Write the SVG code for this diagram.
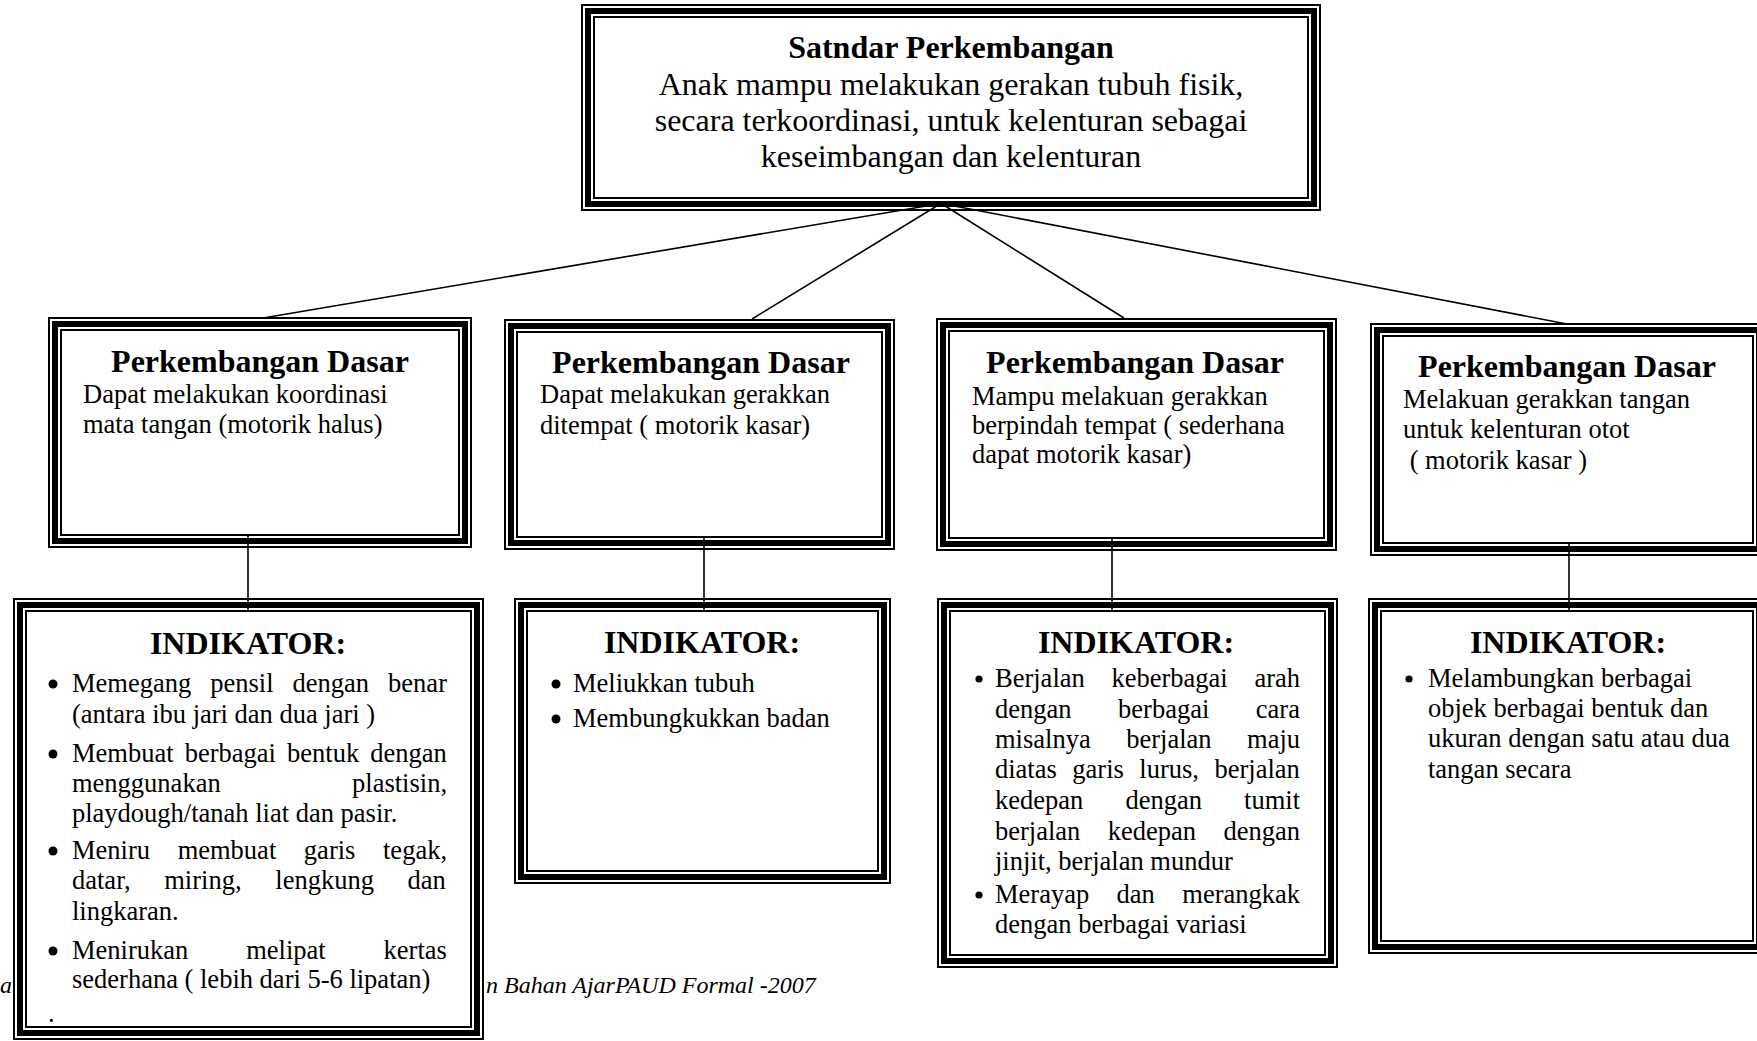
<svg xmlns="http://www.w3.org/2000/svg" width="1757" height="1041" viewBox="0 0 1757 1041">
<style>
.bg{fill:#fff;stroke:#000;stroke-width:2}
.tk{fill:none;stroke:#000;stroke-width:6}
.tn{fill:none;stroke:#000;stroke-width:2}
.cn{stroke:#000;stroke-width:1.6;fill:none}
text{font-family:"Liberation Serif","Times New Roman",serif;fill:#000}
.h{font-weight:bold;font-size:32px;text-anchor:middle}
.tb{font-size:32px;text-anchor:middle}
.b{font-size:26.5px}
.f{font-size:24px;font-style:italic}
.dot{fill:#000}
</style>
<rect width="1757" height="1041" fill="#fff"/>
<g id="footer">
<text class="f" x="0" y="993">an</text>
<text class="f" x="486" y="993">n Bahan AjarPAUD Formal -2007</text>
</g>
<g id="top">
<rect class="bg" x="582" y="5" width="738" height="205"/>
<rect class="tk" x="588" y="11" width="726" height="193"/>
<rect class="tn" x="594" y="17" width="714" height="181"/>
<text class="h" x="951" y="58">Satndar Perkembangan</text>
<text class="tb" x="951" y="95">Anak mampu melakukan gerakan tubuh fisik,</text>
<text class="tb" x="951" y="131">secara terkoordinasi, untuk kelenturan sebagai</text>
<text class="tb" x="951" y="167">keseimbangan dan kelenturan</text>
</g>
<g id="pd1">
<rect class="bg" x="49" y="318" width="422" height="229"/>
<rect class="tk" x="55" y="324" width="410" height="217"/>
<rect class="tn" x="61" y="330" width="398" height="205"/>
<text class="h" x="260" y="372">Perkembangan Dasar</text>
<text class="b" x="83" y="403">Dapat melakukan koordinasi</text>
<text class="b" x="83" y="433">mata tangan (motorik halus)</text>
</g>
<g id="pd2">
<rect class="bg" x="505" y="320" width="389" height="229"/>
<rect class="tk" x="511" y="326" width="377" height="217"/>
<rect class="tn" x="517" y="332" width="365" height="205"/>
<text class="h" x="701" y="373">Perkembangan Dasar</text>
<text class="b" x="540" y="403">Dapat melakukan gerakkan</text>
<text class="b" x="540" y="434">ditempat ( motorik kasar)</text>
</g>
<g id="pd3">
<rect class="bg" x="937" y="319" width="399" height="231"/>
<rect class="tk" x="943" y="325" width="387" height="219"/>
<rect class="tn" x="949" y="331" width="375" height="207"/>
<text class="h" x="1135" y="373">Perkembangan Dasar</text>
<text class="b" x="972" y="405">Mampu melakuan gerakkan</text>
<text class="b" x="972" y="434">berpindah tempat ( sederhana</text>
<text class="b" x="972" y="463">dapat motorik kasar)</text>
</g>
<g id="pd4">
<rect class="bg" x="1371" y="324" width="394" height="231"/>
<rect class="tk" x="1377" y="330" width="382" height="219"/>
<rect class="tn" x="1383" y="336" width="370" height="207"/>
<text class="h" x="1567" y="377">Perkembangan Dasar</text>
<text class="b" x="1403" y="408">Melakuan gerakkan tangan</text>
<text class="b" x="1403" y="438">untuk kelenturan otot</text>
<text class="b" x="1403" y="469" xml:space="preserve" style="white-space:pre"> ( motorik kasar )</text>
</g>
<g id="ind1">
<rect class="bg" x="14" y="599" width="469" height="440"/>
<rect class="tk" x="20" y="605" width="457" height="428"/>
<rect class="tn" x="26" y="611" width="445" height="416"/>
<text class="h" x="248" y="654">INDIKATOR:</text>
<circle class="dot" cx="53" cy="684" r="4.5"/>
<circle class="dot" cx="53" cy="754" r="4.5"/>
<circle class="dot" cx="53" cy="851" r="4.5"/>
<circle class="dot" cx="53" cy="951" r="4.5"/>
<text class="b" x="72" y="692" style="word-spacing:12.4px">Memegang pensil dengan benar</text>
<text class="b" x="72" y="723">(antara ibu jari dan dua jari )</text>
<text class="b" x="72" y="762" style="word-spacing:4.5px">Membuat berbagai bentuk dengan</text>
<text class="b" x="72" y="792" style="word-spacing:124.8px">menggunakan plastisin,</text>
<text class="b" x="72" y="822">playdough/tanah liat dan pasir.</text>
<text class="b" x="72" y="859" style="word-spacing:21px">Meniru membuat garis tegak,</text>
<text class="b" x="72" y="889" style="word-spacing:27.1px">datar, miring, lengkung dan</text>
<text class="b" x="72" y="920">lingkaran.</text>
<text class="b" x="72" y="959" style="word-spacing:51.3px">Menirukan melipat kertas</text>
<text class="b" x="72" y="988">sederhana ( lebih dari 5-6 lipatan)</text>
<text class="b" x="48" y="1022">.</text>
</g>
<g id="ind2">
<rect class="bg" x="515" y="599" width="375" height="284"/>
<rect class="tk" x="521" y="605" width="363" height="272"/>
<rect class="tn" x="527" y="611" width="351" height="260"/>
<text class="h" x="702" y="653">INDIKATOR:</text>
<circle class="dot" cx="556" cy="684" r="4.5"/>
<circle class="dot" cx="556" cy="719" r="4.5"/>
<text class="b" x="573" y="692">Meliukkan tubuh</text>
<text class="b" x="573" y="727">Membungkukkan badan</text>
</g>
<g id="ind3">
<rect class="bg" x="938" y="599" width="399" height="368"/>
<rect class="tk" x="944" y="605" width="387" height="356"/>
<rect class="tn" x="950" y="611" width="375" height="344"/>
<text class="h" x="1136" y="653">INDIKATOR:</text>
<circle class="dot" cx="979" cy="679" r="3.6"/>
<circle class="dot" cx="979" cy="895" r="3.6"/>
<text class="b" x="995" y="687" style="word-spacing:20.1px">Berjalan keberbagai arah</text>
<text class="b" x="995" y="718" style="word-spacing:39.9px">dengan berbagai cara</text>
<text class="b" x="995" y="748" style="word-spacing:28.9px">misalnya berjalan maju</text>
<text class="b" x="995" y="778" style="word-spacing:8.9px">diatas garis lurus, berjalan</text>
<text class="b" x="995" y="809" style="word-spacing:35.5px">kedepan dengan tumit</text>
<text class="b" x="995" y="840" style="word-spacing:20.8px">berjalan kedepan dengan</text>
<text class="b" x="995" y="870">jinjit, berjalan mundur</text>
<text class="b" x="995" y="903" style="word-spacing:20.8px">Merayap dan merangkak</text>
<text class="b" x="995" y="933">dengan berbagai variasi</text>
</g>
<g id="ind4">
<rect class="bg" x="1369" y="599" width="396" height="354"/>
<rect class="tk" x="1375" y="605" width="384" height="342"/>
<rect class="tn" x="1381" y="611" width="372" height="330"/>
<text class="h" x="1568" y="653">INDIKATOR:</text>
<circle class="dot" cx="1409" cy="679" r="3.6"/>
<text class="b" x="1428" y="687">Melambungkan berbagai</text>
<text class="b" x="1428" y="717">objek berbagai bentuk dan</text>
<text class="b" x="1428" y="747">ukuran dengan satu atau dua</text>
<text class="b" x="1428" y="778">tangan secara</text>
</g>
<g id="connectors">
<line class="cn" x1="938" y1="204" x2="263" y2="318"/>
<line class="cn" x1="940" y1="204" x2="752" y2="319"/>
<line class="cn" x1="942" y1="204" x2="1124" y2="318"/>
<line class="cn" x1="944" y1="204" x2="1567" y2="324"/>
<line class="cn" x1="248" y1="534" x2="248" y2="612"/>
<line class="cn" x1="704" y1="536" x2="704" y2="612"/>
<line class="cn" x1="1112" y1="537" x2="1112" y2="612"/>
<line class="cn" x1="1569" y1="542" x2="1569" y2="612"/>
</g>
</svg>
